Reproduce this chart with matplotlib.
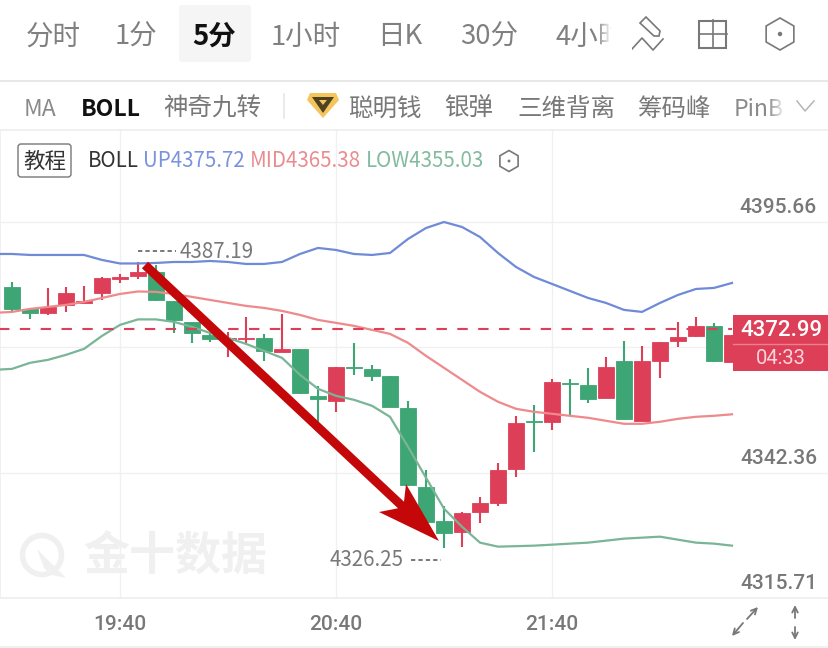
import numpy as np
import matplotlib
matplotlib.use("Agg")
import matplotlib.pyplot as plt
import matplotlib.patches as pat
import matplotlib.transforms as mtrans

plt.rcParams['font.family'] = ['Roboto', 'Noto Sans CJK SC', 'DejaVu Sans']

# 5 minute candles, left to right
opens = [4381.85, 4377.18, 4376.33, 4378.03, 4378.45, 4380.58, 4383.55, 4384.19, 4385.04, 4378.88,
         4374.42, 4371.66, 4370.59, 4370.81, 4371.02, 4368.04, 4368.68, 4358.70, 4357.64, 4364.86,
         4364.44, 4362.95, 4356.15, 4339.37, 4332.15, 4329.81, 4334.06, 4335.97, 4343.19, 4353.39,
         4353.18, 4361.46, 4361.04, 4358.27, 4366.13, 4353.39, 4366.13, 4370.38, 4371.44, 4373.57,
         4365.92]
closes = [4377.18, 4376.33, 4377.60, 4380.58, 4378.88, 4383.76, 4383.97, 4385.04, 4379.09, 4374.84,
          4372.08, 4370.81, 4371.02, 4371.02, 4368.26, 4368.68, 4359.34, 4358.06, 4364.86, 4364.65,
          4362.95, 4356.36, 4339.79, 4331.94, 4329.60, 4333.85, 4335.97, 4342.98, 4352.96, 4353.18,
          4361.67, 4361.25, 4358.06, 4364.86, 4353.81, 4366.13, 4370.17, 4371.23, 4373.57, 4366.13,
          4371.66]
highs = [4382.91, 4377.18, 4381.64, 4381.85, 4382.06, 4383.97, 4384.61, 4387.19, 4386.52, 4378.88,
         4374.42, 4372.29, 4372.29, 4375.48, 4371.87, 4376.12, 4368.68, 4360.83, 4364.86, 4369.96,
         4365.28, 4362.95, 4357.64, 4342.98, 4335.33, 4334.06, 4337.25, 4344.47, 4354.45, 4356.79,
         4362.31, 4362.31, 4364.65, 4367.02, 4370.38, 4369.32, 4370.17, 4374.42, 4375.48, 4374.21,
         4371.66]
lows = [4376.54, 4375.05, 4375.90, 4376.54, 4378.45, 4379.09, 4382.70, 4383.55, 4378.88, 4372.08,
        4369.96, 4370.17, 4366.98, 4369.96, 4366.13, 4368.04, 4359.13, 4352.96, 4355.30, 4363.16,
        4361.88, 4356.36, 4339.58, 4331.94, 4326.25, 4326.63, 4331.73, 4335.33, 4341.50, 4346.81,
        4351.48, 4354.45, 4357.21, 4358.27, 4353.60, 4353.39, 4362.52, 4369.11, 4371.23, 4365.92,
        4365.92]

# bollinger bands start one candle before the first visible one
boll_up = [4388.86, 4388.86, 4388.65, 4388.65, 4388.65, 4388.65, 4387.59, 4386.84, 4386.84, 4386.95,
           4387.16, 4387.16, 4387.37, 4387.16, 4386.74, 4386.74, 4387.16, 4388.86, 4390.14, 4389.71,
           4388.86, 4388.65, 4389.07, 4392.05, 4394.38, 4395.66, 4394.60, 4392.47, 4389.07, 4386.10,
           4383.97, 4382.49, 4381.00, 4379.51, 4378.45, 4376.97, 4376.54, 4378.45, 4380.15, 4381.42,
           4381.64, 4382.70]
boll_mid = [4376.33, 4376.54, 4377.18, 4377.60, 4378.03, 4378.67, 4379.51, 4380.36, 4380.89, 4380.79,
            4380.36, 4379.73, 4379.09, 4378.45, 4377.82, 4377.39, 4376.75, 4375.90, 4374.84, 4374.21,
            4373.57, 4372.72, 4371.87, 4369.96, 4367.20, 4364.65, 4362.10, 4359.55, 4357.43, 4355.94,
            4355.30, 4354.88, 4354.45, 4354.03, 4353.39, 4352.75, 4352.75, 4353.18, 4353.81, 4354.24,
            4354.45, 4354.77]
boll_low = [4364.22, 4364.43, 4365.71, 4366.35, 4367.41, 4368.68, 4371.44, 4373.78, 4374.95, 4374.95,
            4374.42, 4373.36, 4372.08, 4371.02, 4369.74, 4368.26, 4366.77, 4363.16, 4360.19, 4358.70,
            4357.85, 4356.58, 4354.24, 4347.87, 4341.28, 4334.70, 4330.87, 4327.48, 4326.63, 4326.73,
            4326.84, 4327.05, 4327.27, 4327.48, 4327.90, 4328.33, 4328.54, 4328.75, 4328.11, 4327.48,
            4327.27, 4326.84]

y_ticks = [4395.66, 4369.01, 4342.36, 4315.71]
y_labels = ['4395.66', '', '4342.36', '4315.71']
x_ticks = [6, 18, 30]
x_labels = ['19:40', '20:40', '21:40']
last_price = 4372.99

RED = '#de3f58'
GREEN = '#3ea574'
GRAY = '#787878'
CJK = ['Noto Sans CJK SC', 'Roboto', 'DejaVu Sans']

fig = plt.figure(figsize=(8.29, 6.48), dpi=100)

# price panel
ax = fig.add_axes([0, 50 / 648, 1, 468 / 648])
ax.set_xlim(-12 / 18, 817 / 18)
ax.set_ylim(4315.71, 4415.22)

idx = np.arange(len(opens))
colors = [RED if c >= o else GREEN for o, c in zip(opens, closes)]
ax.vlines(idx, lows, highs, colors=colors, lw=1.5, zorder=3)
ax.bar(idx, np.abs(np.array(closes) - np.array(opens)), bottom=np.minimum(opens, closes),
       width=0.88, color=colors, edgecolor=colors, lw=0.6, zorder=3)

band_idx = np.arange(-1, len(opens))
ax.plot(band_idx, boll_up, color='#6f8bd8', lw=1.6, zorder=4)
ax.plot(band_idx, boll_mid, color='#ee8a8c', lw=1.6, zorder=4)
ax.plot(band_idx, boll_low, color='#79b596', lw=1.6, zorder=4)
ax.plot([-1, 40], [last_price, last_price], color=RED, lw=1.5, dashes=(5, 5), zorder=5)

ax.set_yticks(y_ticks)
ax.set_yticklabels(y_labels)
ax.set_xticks(x_ticks)
ax.set_xticklabels(x_labels)
ax.grid(True, color='#f0f0f0', lw=1)
ax.set_axisbelow(True)
ax.tick_params(axis='both', length=0, labelsize=15, labelcolor=GRAY)
ax.tick_params(axis='x', pad=12.5)
ax.tick_params(axis='y', left=False, labelleft=False, labelright=True, pad=-8.6)
shift = mtrans.ScaledTranslation(0, 3.7 / 72, fig.dpi_scale_trans)
for lab in ax.get_yticklabels() + ax.get_xticklabels():
    lab.set_fontweight('medium')
for lab in ax.get_yticklabels():
    lab.set_ha('right')
    lab.set_va('bottom')
    lab.set_transform(lab.get_transform() + shift)
for s in ax.spines.values():
    s.set_color('#eeeeee')
    s.set_linewidth(1.2)

# everything else is app chrome, placed in pixels
ui = fig.add_axes([0, 0, 1, 1], zorder=10)
ui.set_xlim(0, 829)
ui.set_ylim(648, 0)
ui.axis('off')
ui.patch.set_alpha(0)


def label(x, y, s, size, color=GRAY, weight='normal', ha='center', fam=CJK):
    return ui.text(x, y, s, fontsize=size * 0.72, color=color, fontweight=weight,
                   ha=ha, va='center', family=fam)


def fade(x0, x1, y0, y1):
    grad = np.ones((1, 32, 4))
    grad[0, :, 3] = np.linspace(0, 1, 32)
    ui.imshow(grad, extent=(x0, x1, y1, y0), aspect='auto', zorder=6)
    ui.set_xlim(0, 829)
    ui.set_ylim(648, 0)


# top tabs
ui.add_patch(pat.FancyBboxPatch((179, 5), 72, 57, boxstyle='round,pad=0,rounding_size=3',
                                fc='#f5f5f5', ec='none'))
for x, s in [(53, '分时'), (136, '1分'), (306, '1小时'), (400, '日K'), (489, '30分')]:
    label(x, 37, s, 27.5, '#808080')
label(214, 37, '5分', 27.5, '#111111', 'bold')
label(556, 37, '4小时', 27.5, '#808080', ha='left')
fade(596, 612, 8, 60)
ui.add_patch(pat.Rectangle((612, 5), 20, 60, fc='white', ec='none', zorder=7))

# toolbar icons
pen = [(640, 23), (646, 17), (660, 31), (659, 36), (654, 36)]
ui.add_patch(pat.Polygon(pen, closed=True, fc='none', ec=GRAY, lw=1.2))
ui.plot([632, 642, 653, 663], [49, 38, 50, 39], color=GRAY, lw=1.2)
ui.add_patch(pat.Rectangle((699.5, 20.5), 27, 27, fc='none', ec=GRAY, lw=1.5))
ui.plot([713, 713], [20, 48], color=GRAY, lw=1.2)
ui.plot([699, 727], [34, 34], color=GRAY, lw=1.2)


def hexagon(cx, cy, r):
    ang = np.radians(np.arange(30, 390, 60))
    ui.add_patch(pat.Polygon(np.c_[cx + r * np.cos(ang), cy + r * np.sin(ang)], closed=True,
                             fc='none', ec=GRAY, lw=1.2))
    ui.add_patch(pat.Circle((cx, cy), r * 0.14, fc=GRAY, ec='none'))


hexagon(780, 34, 16)
ui.plot([0, 829], [80.5, 80.5], color='#e8e8e8', lw=1.5)

# indicator row
label(40, 109, 'MA', 23, '#8a8a8a')
label(111, 109, 'BOLL', 23, '#111111', 'bold')
label(212, 109, '神奇九转', 24.5)
ui.plot([284, 284], [94, 118], color='#e6e6e6', lw=1.2)
ui.add_patch(pat.Polygon([(310, 93), (336, 93), (339, 100), (323, 118), (307, 100)], closed=True,
                         fc='#f4c55a', ec='none'))
ui.add_patch(pat.Polygon([(312, 97), (334, 97), (323, 113)], closed=True, fc='#4f4122', ec='none'))
ui.add_patch(pat.Polygon([(319, 100), (327, 100), (323, 105)], closed=True, fc='#f4c55a', ec='none'))
label(385, 109, '聪明钱', 24.5)
label(469, 109, '银弹', 24.5)
label(566, 109, '三维背离', 24.5)
label(675, 109, '筹码峰', 24.5)
label(734, 109, 'PinB', 23, '#8a8a8a', ha='left')
fade(768, 786, 92, 122)
ui.plot([797, 805, 814], [101, 111, 101], color='#b5b5b5', lw=1.1)

# legend row of the panel
ui.add_patch(pat.FancyBboxPatch((18, 144), 53, 33, boxstyle='round,pad=0,rounding_size=3',
                                fc='white', ec='#777777', lw=1))
label(45, 162, '教程', 21.5, '#333333')
label(88, 161, 'BOLL', 20.5, '#333333', ha='left')
label(143, 161, 'UP4375.72', 20.5, '#7b93dc', ha='left')
label(250, 161, 'MID4365.38', 20.5, '#e98c90', ha='left')
label(366, 161, 'LOW4355.03', 20.5, '#82bb9d', ha='left')
hexagon(509, 161, 10.5)

# watermark
ui.add_patch(pat.Circle((42, 555), 19.5, fc='none', ec='#f0f0f0', lw=4))
ui.add_patch(pat.Polygon([(37, 549), (66, 578), (52, 575), (44, 568)], closed=True, fc='#f0f0f0', ec='none'))
label(175, 557, '金十数据', 46, '#f0f0f0', 'bold')

# high / low marks
ui.plot([138, 176], [250.5, 250.5], color=GRAY, lw=1.4, dashes=(2.2, 1.6))
label(180, 252.5, '4387.19', 20.5, weight='medium', ha='left')
ui.plot([411, 441], [559.5, 559.5], color=GRAY, lw=1.4, dashes=(2.2, 1.6))
label(330, 560.5, '4326.25', 20.5, weight='medium', ha='left')

# hand drawn arrow on top of the candles
ui.add_patch(pat.Polygon([(148.1, 261.7), (404, 501.7), (406, 484), (439, 541), (379, 512),
                          (398, 508.3), (141.9, 268.3)], closed=True, fc='#c4080a', ec='none', zorder=5))

# last price tag
ui.add_patch(pat.Rectangle((733, 315), 95, 56, fc=RED, ec='none', zorder=5))
ui.plot([733, 828], [344, 344], color='#ec7f90', lw=1, zorder=6)
ui.text(781, 331, '4372.99', fontsize=16, color='white', fontweight='medium', ha='center',
        va='center', family=CJK[1:], zorder=6)
ui.text(781, 358, '04:33', fontsize=14.5, color='#f8d5da', ha='center', va='center',
        family=CJK[1:], zorder=6)

# bottom right icons
arrow = dict(arrowstyle='->', color=GRAY, lw=1.3, mutation_scale=10, shrinkA=0, shrinkB=0)
ui.annotate('', xy=(758, 607), xytext=(747, 619), arrowprops=arrow)
ui.annotate('', xy=(732, 636), xytext=(743, 623), arrowprops=arrow)
ui.annotate('', xy=(795, 605), xytext=(795, 618), arrowprops=arrow)
ui.annotate('', xy=(795, 640), xytext=(795, 627), arrowprops=arrow)
ui.plot([0, 829], [646.5, 646.5], color='#eeeeee', lw=1.2)

fig.savefig('out.png', dpi=100, facecolor='white')
